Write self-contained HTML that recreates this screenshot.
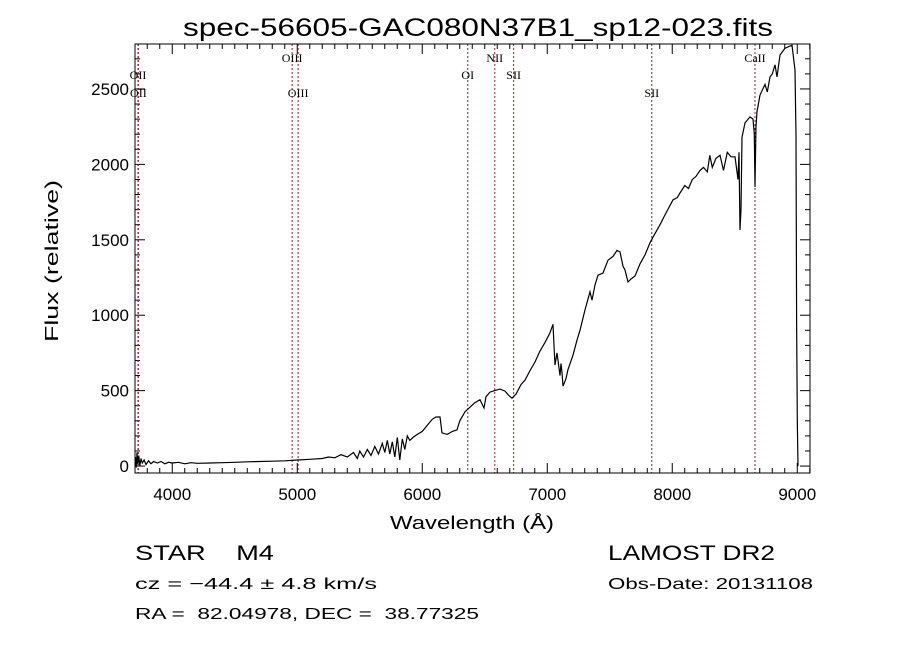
<!DOCTYPE html>
<html><head><meta charset="utf-8"><style>
html,body{margin:0;padding:0;background:#fff;}
svg{display:block;}
text{font-family:"Liberation Sans",sans-serif;fill:#000;white-space:pre;}
.lab{font-family:"Liberation Serif",serif;font-size:12px;}
</style></head><body>
<svg id="chart" width="900" height="649" viewBox="0 0 900 649" xmlns="http://www.w3.org/2000/svg" xml:space="preserve">
<rect width="900" height="649" fill="#fff"/>
<text x="183" y="36" font-size="25" textLength="590" lengthAdjust="spacingAndGlyphs">spec-56605-GAC080N37B1_sp12-023.fits</text>
<g id="axes"></g>
<g id="lines"></g>
<path id="spec" fill="none" stroke="#000" stroke-width="1.2"/>
<rect x="135" y="44" width="675" height="429" fill="none" stroke="#000" stroke-width="1"/>
<text x="390" y="529" font-size="18" textLength="164" lengthAdjust="spacingAndGlyphs">Wavelength (Å)</text>
<text transform="translate(58,342) rotate(-90)" font-size="18" textLength="162" lengthAdjust="spacingAndGlyphs">Flux (relative)</text>
<text x="135" y="560" font-size="21" textLength="139" lengthAdjust="spacingAndGlyphs">STAR    M4</text>
<text x="135" y="589" font-size="16" textLength="242" lengthAdjust="spacingAndGlyphs">cz = −44.4 ± 4.8 km/s</text>
<text x="135" y="619" font-size="16" textLength="344" lengthAdjust="spacingAndGlyphs">RA =  82.04978, DEC =  38.77325</text>
<text x="608" y="560" font-size="21" textLength="167" lengthAdjust="spacingAndGlyphs">LAMOST DR2</text>
<text x="608" y="589" font-size="16" textLength="205" lengthAdjust="spacingAndGlyphs">Obs-Date: 20131108</text>
</svg>
<script>
const wavelengths=[3705,3712,3718,3725,3732,3740,3750,3760,3775,3790,3810,3830,3850,3880,3910,3940,3970,4000,4050,4100,4150,4200,4300,4400,4500,4600,4700,4800,4900,5000,5100,5200,5250,5300,5350,5400,5450,5480,5500,5530,5560,5590,5620,5650,5680,5700,5720,5740,5760,5780,5800,5820,5840,5860,5880,5900,5926,5960,6000,6040,6080,6110,6142,6158,6200,6240,6278,6300,6342,6382,6420,6462,6494,6510,6542,6580,6622,6662,6690,6718,6750,6790,6822,6860,6902,6940,6982,7020,7046,7054,7062,7078,7102,7110,7118,7126,7150,7166,7206,7238,7262,7302,7342,7358,7382,7406,7446,7486,7526,7558,7582,7606,7622,7646,7670,7702,7742,7782,7822,7854,7902,7942,8006,8040,8062,8100,8130,8160,8190,8222,8250,8280,8300,8320,8350,8382,8410,8440,8470,8502,8526,8534,8542,8550,8558,8582,8622,8646,8656,8662,8670,8678,8702,8742,8760,8782,8800,8822,8838,8862,8902,8958,8982,8990,8995,9000,9006];
const fluxes=[60,-10,90,10,70,0,50,20,40,10,35,15,30,20,30,15,25,20,25,15,22,18,20,22,25,28,30,32,35,40,45,50,60,55,75,60,90,50,100,60,110,70,130,80,150,90,170,80,160,60,190,40,180,110,200,170,190,210,230,270,310,325,325,220,210,230,240,300,360,390,420,440,385,460,490,500,510,497,470,450,477,540,570,630,690,760,820,880,940,800,670,750,600,680,620,530,580,640,735,835,900,1035,1155,1100,1200,1265,1280,1365,1390,1430,1420,1325,1300,1220,1240,1260,1340,1400,1480,1530,1600,1665,1765,1780,1810,1860,1840,1900,1920,1960,1980,1950,2060,1980,2040,2060,1960,2080,2050,2050,1900,2080,1565,1700,2180,2275,2315,2300,2200,1850,2250,2350,2460,2530,2480,2580,2600,2660,2580,2725,2770,2790,2625,2195,970,300,0];
const xTicks=[4000,5000,6000,7000,8000,9000];
const yTicks=[0,500,1000,1500,2000,2500];
const lineWaves=[3726,3729,4959,5007,6364,6580,6731,7836,8662];
const lineNames=["OII","OII","OIII","OIII","OI","NII","SII","SII","CaII"];
const lineLabelRow=[1,2,0,2,1,0,1,2,0];

const X0=135,X1=810,Y0=473,Y1=44,WMIN=3702,WMAX=9102,FMIN=-46,FMAX=2798;
function xs(w){return X0+(w-WMIN)/(WMAX-WMIN)*(X1-X0);}
function ys(f){return Y0-(f-FMIN)/(FMAX-FMIN)*(Y0-Y1);}
const NS="http://www.w3.org/2000/svg";
function mk(tag,attrs,parent){const e=document.createElementNS(NS,tag);for(const k in attrs)e.setAttribute(k,attrs[k]);parent.appendChild(e);return e;}
const ax=document.getElementById('axes');
for(let w=3800;w<=9100;w+=100){
  const major=w%1000===0;const L=major?10:5;const x=xs(w);
  const t1=mk('line',{x1:x,x2:x,y1:Y0,y2:Y0-L,stroke:'#000'},ax);
  
  
  const t2=mk('line',{x1:x,x2:x,y1:Y1,y2:Y1+L,stroke:'#000'},ax);
  
  
}
xTicks.forEach(w=>{
  const t=mk('text',{x:xs(w),y:500,'font-size':17,'text-anchor':'middle'},ax);t.textContent=w;
  
  
});
for(let f=0;f<=2700;f+=100){
  const major=f%500===0;const L=major?10:5;const y=ys(f);
  const t1=mk('line',{x1:X0,x2:X0+L,y1:y,y2:y,stroke:'#000'},ax);
  
  
  const t2=mk('line',{x1:X1,x2:X1-L,y1:y,y2:y,stroke:'#000'},ax);
  
  
}
yTicks.forEach(f=>{
  const t=mk('text',{x:129,y:ys(f)+6,'font-size':17,'text-anchor':'end'},ax);t.textContent=f;
  
  
});
const lg=document.getElementById('lines');
const rowY=[62,79,97];
lineWaves.forEach((w,i)=>{
  const x=xs(w);
  const l=mk('line',{x1:x,x2:x,y1:Y1,y2:Y0,stroke:'#8b2323','stroke-width':1,'stroke-dasharray':'2,2'},lg);
  
  
  const t=mk('text',{x:x,y:rowY[lineLabelRow[i]],'text-anchor':'middle',class:'lab'},lg);t.textContent=lineNames[i];
  
  
});
let d='';
wavelengths.forEach((w,i)=>{const f=Math.min(fluxes[i],FMAX);d+=(i?'L':'M')+xs(w).toFixed(1)+','+ys(f).toFixed(1);});
document.getElementById('spec').setAttribute('d',d);
</script>
</body></html>
